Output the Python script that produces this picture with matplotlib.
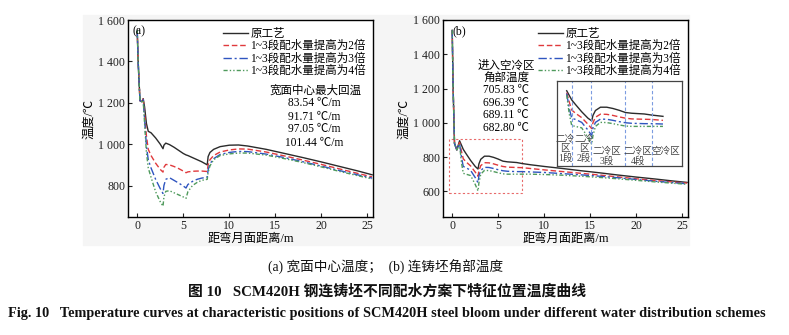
import matplotlib
matplotlib.use('Agg')
import matplotlib.pyplot as plt
from matplotlib.patches import Rectangle
from matplotlib.ticker import FuncFormatter

plt.rcParams['font.family'] = ['Liberation Serif', 'Noto Sans CJK SC', 'DejaVu Sans']
plt.rcParams['axes.unicode_minus'] = False

# 图例标签
labels = ['原工艺', '1~3段配水量提高为2倍', '1~3段配水量提高为3倍', '1~3段配水量提高为4倍']

# (a) 宽面中心温度
xa = [0, 0.1, 0.3, 0.5, 0.65, 0.8, 1.0, 1.2, 1.5, 2.0, 2.5, 2.8, 2.9, 3.1, 3.5, 4.0, 4.5,
      5.0, 5.3, 5.5, 6.0, 6.5, 7.0, 7.6, 7.7, 7.9, 8.3, 9.0, 10, 11, 12, 14, 16, 18, 20,
      22, 24, 25.5]
ta_orig = [1552, 1400, 1210, 1205, 1220, 1180, 1100, 1062, 1055, 1030, 1000, 978, 995, 1005,
           998, 985, 970, 955, 948, 945, 935, 925, 915, 900, 940, 960, 975, 988, 995, 996, 991,
           975, 955, 935, 914, 892, 870, 852]
ta_2x = [1552, 1400, 1210, 1205, 1218, 1150, 1040, 975, 945, 908, 878, 865, 888, 902, 900,
         892, 882, 870, 862, 866, 869, 870, 870, 868, 900, 925, 945, 962, 972, 977, 976, 962,
         943, 923, 902, 880, 858, 842]
ta_3x = [1552, 1400, 1210, 1205, 1215, 1120, 990, 925, 885, 830, 785, 762, 800, 830, 838, 825,
         812, 798, 788, 805, 820, 830, 836, 840, 875, 905, 930, 950, 960, 965, 964, 952, 935,
         915, 894, 872, 851, 836]
ta_4x = [1552, 1400, 1210, 1205, 1212, 1100, 960, 885, 840, 770, 722, 700, 745, 772, 775, 765,
         755, 745, 738, 770, 800, 815, 825, 830, 865, 895, 925, 945, 953, 957, 957, 947, 930,
         911, 890, 868, 847, 832]
rise_a = ['83.54 ℃/m', '91.71 ℃/m', '97.05 ℃/m', '101.44 ℃/m']

# (b) 连铸坯角部温度
xb = [0, 0.1, 0.25, 0.5, 0.8, 1.0, 1.2, 1.5, 2.0, 2.5, 2.8, 2.9, 3.1, 3.5, 4.0, 4.5, 5.0, 5.5,
      6.0, 7.0, 7.6, 8.5, 10, 12, 14, 16, 18, 20, 22, 24, 25.5]
tb_orig = [1540, 1200, 880, 842, 895, 870, 845, 820, 780, 745, 730, 760, 787, 805, 805, 798,
           788, 776, 772, 768, 762, 755, 745, 733, 720, 708, 695, 683, 672, 660, 652]
tb_2x = [1540, 1200, 880, 842, 885, 835, 790, 772, 748, 712, 688, 720, 750, 767, 766, 760, 752,
         745, 741, 739, 738, 733, 725, 715, 705, 695, 684, 673, 663, 654, 648]
tb_3x = [1540, 1200, 878, 842, 880, 800, 745, 738, 722, 680, 650, 690, 722, 740, 739, 733, 726,
         720, 717, 715, 715, 713, 710, 703, 696, 688, 679, 669, 659, 650, 644]
tb_4x = [1540, 1200, 876, 842, 872, 770, 705, 700, 692, 640, 602, 650, 700, 722, 721, 715, 708,
         702, 700, 700, 700, 700, 698, 694, 688, 681, 673, 664, 655, 647, 641]
corner_b = ['705.83 ℃', '696.39 ℃', '689.11 ℃', '682.80 ℃']

# 局部放大图中的冷却区分界
zone_edges = [1.2, 2.75, 5.45, 7.6]

colors = ['#2b2b2b', '#e0393c', '#2f55c0', '#4f9a5c']
styles = ['-', (0, (4, 2)), (0, (6, 2, 1.5, 2)), (0, (3, 1.5, 1, 1.5, 1, 1.5))]

fig = plt.figure(figsize=(7.89, 3.35), dpi=100)
fig.patches.append(Rectangle((83 / 789, 1 - 245 / 335), 606 / 789, 230 / 335,
                             transform=fig.transFigure, color='#f5f5f5', zorder=-1))

fmt = FuncFormatter(lambda v, p: f'{int(v) // 1000} {int(v) % 1000:03d}' if v >= 1000 else f'{int(v)}')


def style_axes(ax, ylim, yticks):
    ax.set_xlim(-1, 25.6)
    ax.set_ylim(*ylim)
    ax.set_xticks([0, 5, 10, 15, 20, 25])
    ax.set_yticks(yticks)
    ax.yaxis.set_major_formatter(fmt)
    ax.tick_params(direction='in', length=3, labelsize=8.6, colors='#222', pad=2)
    for s in ax.spines.values():
        s.set_linewidth(1.0)
    ax.set_xlabel('距弯月面距离/m', fontsize=8.8, labelpad=1)
    ax.set_ylabel('温度/℃', fontsize=8.8, labelpad=2)


# ---- (a)
ax1 = fig.add_axes([128 / 789, 1 - 217 / 335, 245 / 789, 197 / 335])
for ys, c, ls, lb in zip([ta_orig, ta_2x, ta_3x, ta_4x], colors, styles, labels):
    ax1.plot(xa, ys, color=c, linestyle=ls, linewidth=1.0, label=lb)
style_axes(ax1, (648, 1600), [800, 1000, 1200, 1400, 1600])
ax1.legend(loc='upper right', bbox_to_anchor=(0.99, 0.985), frameon=False, fontsize=8.3,
           handlelength=2.2, handletextpad=0.2, labelspacing=0.05, borderaxespad=0)
ax1.text(0.02, 0.975, '(a)', transform=ax1.transAxes, fontsize=8.6, va='top', ha='left')
ax1.text(316 / 789, 1 - 90.7 / 335, '宽面中心最大回温', transform=fig.transFigure,
         fontsize=8.3, ha='center', va='center')
for i, t in enumerate(rise_a):
    ax1.text(314 / 789, 1 - (103.5 + 13 * i) / 335, t, transform=fig.transFigure,
             fontsize=8.3, ha='center', va='center')

# ---- (b)
ax2 = fig.add_axes([443 / 789, 1 - 217 / 335, 245 / 789, 197 / 335])
for ys, c, ls, lb in zip([tb_orig, tb_2x, tb_3x, tb_4x], colors, styles, labels):
    ax2.plot(xb, ys, color=c, linestyle=ls, linewidth=1.0, label=lb)
style_axes(ax2, (450, 1600), [600, 800, 1000, 1200, 1400, 1600])
ax2.legend(loc='upper right', bbox_to_anchor=(0.99, 0.985), frameon=False, fontsize=8.3,
           handlelength=2.2, handletextpad=0.2, labelspacing=0.05, borderaxespad=0)
ax2.text(0.04, 0.975, '(b)', transform=ax2.transAxes, fontsize=8.6, va='top', ha='left')
ax2.text(506 / 789, 1 - 72 / 335, '进入空冷区\n角部温度', transform=fig.transFigure,
         fontsize=8.3, ha='center', va='center', linespacing=0.95)
for i, t in enumerate(corner_b):
    ax2.text(506 / 789, 1 - (90 + 12.6 * i) / 335, t, transform=fig.transFigure,
             fontsize=8.3, ha='center', va='center')
ax2.add_patch(Rectangle((-0.3, 592), 7.9, 316, fill=False, edgecolor='#e86a6a',
                        linestyle=(0, (2, 2)), linewidth=0.8))

# ---- 局部放大
ins = fig.add_axes([556.7 / 789, 1 - 165.7 / 335, 125 / 789, 85 / 335])
for ys, c, ls in zip([tb_orig, tb_2x, tb_3x, tb_4x], colors, styles):
    xs = [x for x in xb if 0.8 <= x <= 9.0]
    yy = [y for x, y in zip(xb, ys) if 0.8 <= x <= 9.0]
    ins.plot(xs, yy, color=c, linestyle=ls, linewidth=1.0)
for xe in zone_edges:
    ins.axvline(xe, color='#7c9ce0', linestyle=(0, (3, 2)), linewidth=0.8)
ins.set_xlim(0, 10)
ins.set_ylim(485, 950)
ins.set_xticks([])
ins.set_yticks([])
for s in ins.spines.values():
    s.set_linewidth(0.9)
    s.set_color('#444')
zt = dict(transform=ins.transAxes, fontsize=6.9, color='#444', ha='center', va='center')
ins.text(0.066, 0.32, '二冷', **zt)
ins.text(0.22, 0.32, '二冷', **zt)
ins.text(0.066, 0.205, '区', **zt)
ins.text(0.22, 0.205, '区', **zt)
ins.text(0.066, 0.087, '1段', **zt)
ins.text(0.22, 0.087, '2段', **zt)
ins.text(0.40, 0.165, '二冷区', **zt)
ins.text(0.40, 0.06, '3段', **zt)
ins.text(0.648, 0.165, '二冷区', **zt)
ins.text(0.648, 0.06, '4段', **zt)
ins.text(0.874, 0.165, '空冷区', **zt)

# ---- 图题
fig.text(0.489, 1 - 267 / 335, '(a) 宽面中心温度；  (b) 连铸坯角部温度', ha='center', va='center',
         fontsize=9.8, color='#111')
fig.text(0.49, 1 - 291 / 335, '图 10   SCM420H 钢连铸坯不同配水方案下特征位置温度曲线',
         ha='center', va='center', fontsize=10.7, fontweight='bold', color='#111')
fig.text(0.4905, 1 - 314 / 335,
         'Fig. 10   Temperature curves at characteristic positions of SCM420H steel bloom '
         'under different water distribution schemes',
         ha='center', va='center', fontsize=10.3, fontweight='bold', color='#111')

plt.savefig('out.png', dpi=100)
